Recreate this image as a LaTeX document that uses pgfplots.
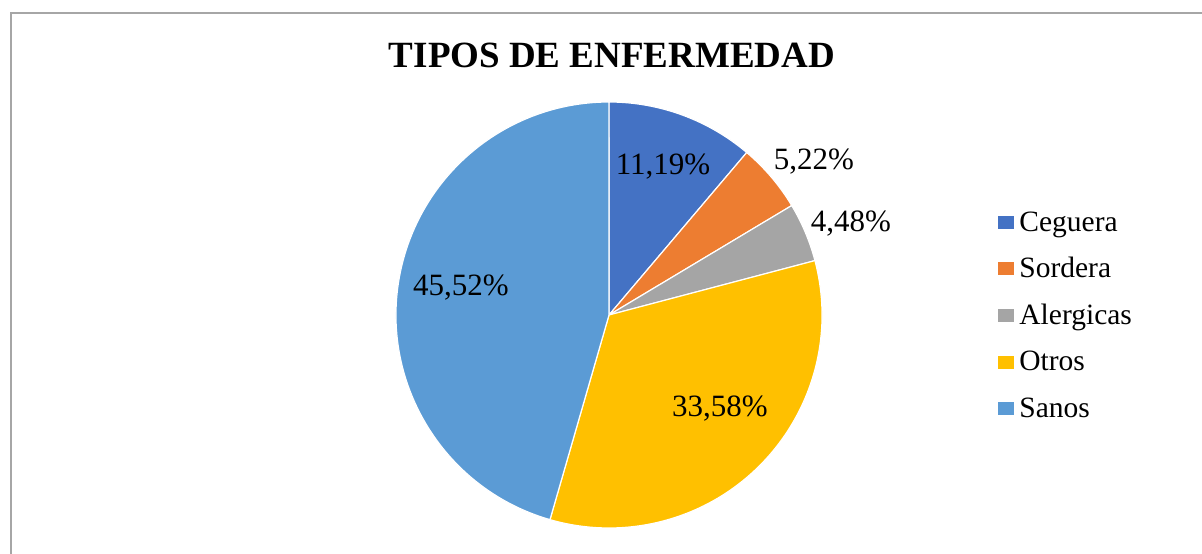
\documentclass[border=0pt]{standalone}
\usepackage{pgfplots}
\usepackage{pgfplotstable}
\pgfplotsset{compat=1.18}
\usepackage{fontspec}
\setmainfont{Liberation Serif}
\definecolor{cCeg}{HTML}{4472C4}
\definecolor{cSor}{HTML}{ED7D31}
\definecolor{cAle}{HTML}{A5A5A5}
\definecolor{cOtr}{HTML}{FFC000}
\definecolor{cSan}{HTML}{5B9BD5}
\definecolor{frame}{HTML}{A6A6A6}
\pgfplotstableread{
label value color lx ly txt
Ceguera 11.19 cCeg 663 387 {11,19\%}
Sordera 5.22 cSor 814 392 {5,22\%}
Alergicas 4.48 cAle 851 330 {4,48\%}
Otros 33.58 cOtr 720 145 {33,58\%}
Sanos 45.52 cSan 461 266 {45,52\%}
}\datatable
\begin{document}
\begin{tikzpicture}
\begin{axis}[
  x=1pt, y=1pt,
  xmin=0, xmax=1202, ymin=0, ymax=554,
  hide axis, clip=false,
  legend style={at={(axis cs:998,239)}, anchor=west, draw=none, fill=none,
    font=\fontsize{29.5}{29.5}\selectfont, row sep=23pt,
    inner sep=0pt, outer sep=0pt,
    nodes={inner sep=1pt},
    /tikz/every odd column/.style={column sep=5pt}},
  legend cell align=left,
]
\coordinate (BL) at (axis cs:0,0);
\coordinate (TR) at (axis cs:1202,554);
\draw[frame, line width=1.3pt] (axis cs:11,0) -- (axis cs:11,541) -- (axis cs:1202,541);
\node[font=\fontsize{37}{37}\selectfont\bfseries] at (axis cs:612,499) {TIPOS DE ENFERMEDAD};
\def\cum{90}
\pgfplotsforeachungrouped \i in {0,...,4}{%
  \pgfplotstablegetelem{\i}{value}\of\datatable \let\v\pgfplotsretval
  \pgfplotstablegetelem{\i}{color}\of\datatable \let\c\pgfplotsretval
  \pgfmathsetmacro\endang{\cum - 3.6*\v}%
  \pgfmathsetmacro\sx{609+213*cos(\cum)}%
  \pgfmathsetmacro\sy{239+213*sin(\cum)}%
  \edef\temp{\noexpand\filldraw[fill=\c, draw=white, line width=1.2pt, line join=round] (axis cs:609,239) -- (axis cs:\sx,\sy) arc[start angle=\cum, end angle=\endang, radius=213pt] -- cycle;}%
  \temp
  \xdef\cum{\endang}%
}
\pgfplotsforeachungrouped \i in {0,...,4}{%
  \pgfplotstablegetelem{\i}{lx}\of\datatable \let\lx\pgfplotsretval
  \pgfplotstablegetelem{\i}{ly}\of\datatable \let\ly\pgfplotsretval
  \pgfplotstablegetelem{\i}{txt}\of\datatable \let\t\pgfplotsretval
  \edef\temp{\noexpand\node[font=\noexpand\fontsize{31}{31}\noexpand\selectfont] at (axis cs:\lx,\ly) {\unexpanded\expandafter{\t}};}%
  \temp
}
\addlegendimage{legend image code/.code={\fill[cCeg] (0pt,-6pt) rectangle (15pt,6pt);}}
\addlegendentry{Ceguera}
\addlegendimage{legend image code/.code={\fill[cSor] (0pt,-6pt) rectangle (15pt,6pt);}}
\addlegendentry{Sordera}
\addlegendimage{legend image code/.code={\fill[cAle] (0pt,-6pt) rectangle (15pt,6pt);}}
\addlegendentry{Alergicas}
\addlegendimage{legend image code/.code={\fill[cOtr] (0pt,-6pt) rectangle (15pt,6pt);}}
\addlegendentry{Otros}
\addlegendimage{legend image code/.code={\fill[cSan] (0pt,-6pt) rectangle (15pt,6pt);}}
\addlegendentry{Sanos}
\end{axis}
\pgfresetboundingbox
\useasboundingbox (BL) rectangle (TR);
\end{tikzpicture}
\end{document}
